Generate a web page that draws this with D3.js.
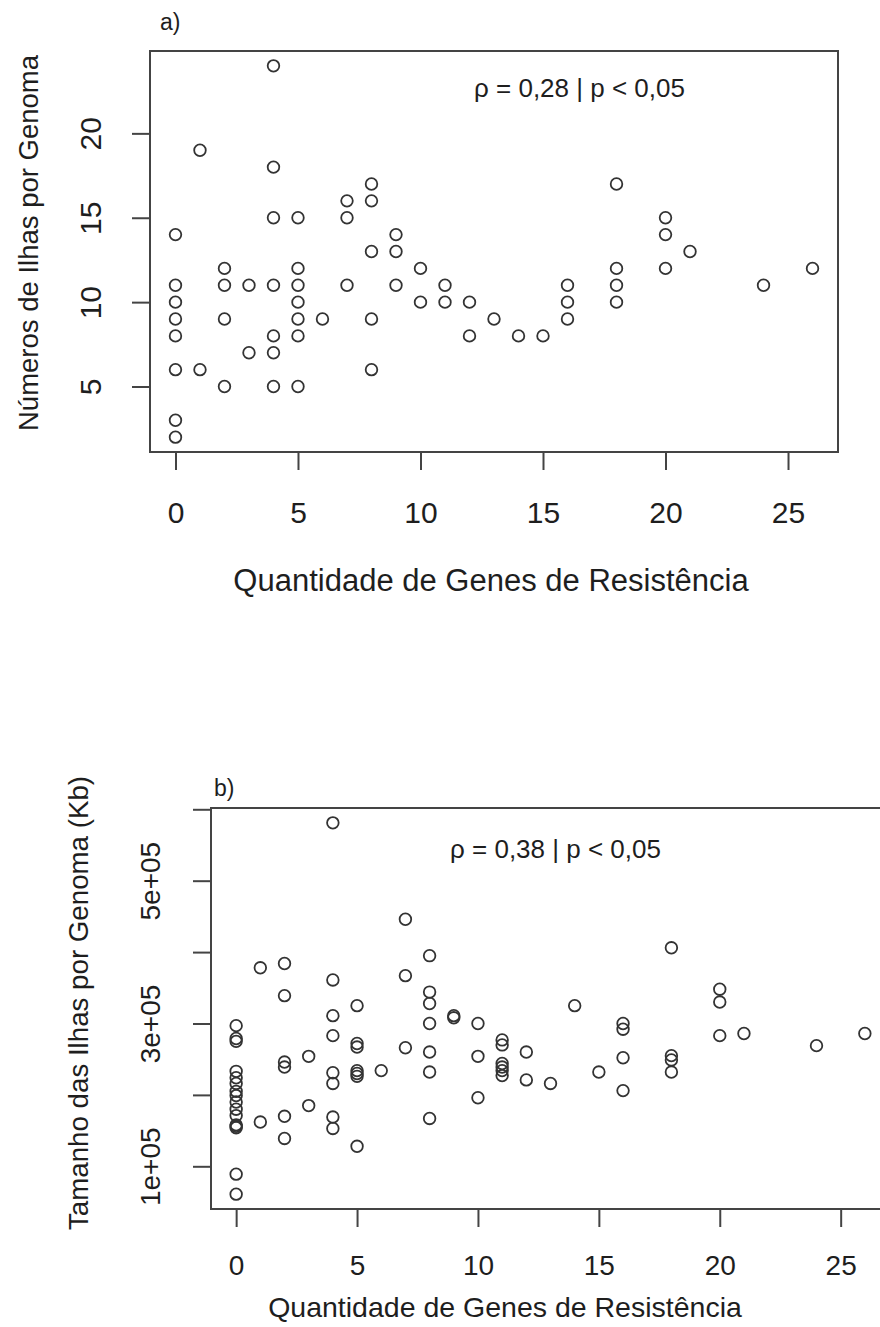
<!DOCTYPE html>
<html>
<head>
<meta charset="utf-8">
<script src="https://cdn.jsdelivr.net/npm/d3@7"></script>
<style>
  body { margin: 0; background: #fff; }
  svg { display: block; font-family: "Liberation Sans", Arial, sans-serif; }
</style>
</head>
<body>
<div id="chart"></div>
<script>
// a) quantidade de genes de resistencia vs numero de ilhas por genoma
const genesA = [
  0, 0, 0, 0, 0, 0, 0, 0,
  1, 1,
  2, 2, 2, 2,
  3, 3,
  4, 4, 4, 4, 4, 4, 4,
  5, 5, 5, 5, 5, 5, 5,
  6,
  7, 7, 7,
  8, 8, 8, 8, 8,
  9, 9, 9,
  10, 10,
  11, 11,
  12, 12,
  13, 14, 15,
  16, 16, 16,
  18, 18, 18, 18,
  20, 20, 20,
  21, 24, 26
];
const ilhasA = [
  14, 11, 10, 9, 8, 6, 3, 2,
  19, 6,
  12, 11, 9, 5,
  11, 7,
  24, 18, 15, 11, 8, 7, 5,
  15, 12, 11, 10, 9, 8, 5,
  9,
  16, 15, 11,
  17, 16, 13, 9, 6,
  14, 13, 11,
  12, 10,
  11, 10,
  10, 8,
  9, 8, 8,
  11, 10, 9,
  17, 12, 11, 10,
  15, 14, 12,
  13, 11, 12
];

// b) quantidade de genes de resistencia vs tamanho das ilhas (Kb)
const genesB = [
  0, 0, 0, 0, 0, 0, 0, 0, 0, 0, 0, 0, 0, 0, 0, 0,
  1, 1,
  2, 2, 2, 2, 2, 2,
  3, 3,
  4, 4, 4, 4, 4, 4, 4, 4,
  5, 5, 5, 5, 5, 5, 5,
  6,
  7, 7, 7,
  8, 8, 8, 8, 8, 8, 8,
  9, 9,
  10, 10, 10,
  11, 11, 11, 11, 11, 11,
  12, 12,
  13, 14, 15,
  16, 16, 16, 16,
  18, 18, 18, 18,
  20, 20, 20,
  21, 24, 26
];
const tamanhoB = [
  297000, 279000, 275000, 233000, 224000, 216000, 205000, 199000, 190000, 180000, 171000, 158000, 156000, 154000, 89000, 61000,
  378000, 162000,
  384000, 339000, 246000, 239000, 170000, 139000,
  254000, 185000,
  581000, 361000, 311000, 283000, 231000, 216000, 169000, 153000,
  325000, 272000, 267000, 234000, 230000, 226000, 128000,
  234000,
  446000, 367000, 266000,
  395000, 344000, 328000, 300000, 260000, 232000, 167000,
  311000, 308000,
  300000, 254000, 196000,
  277000, 270000, 244000, 239000, 234000, 227000,
  260000, 221000,
  216000, 325000, 232000,
  300000, 292000, 252000, 206000,
  406000, 255000, 249000, 232000,
  348000, 330000, 283000,
  286000, 269000, 286000
];

const xTicks = [0, 5, 10, 15, 20, 25];
const yTicksA = [5, 10, 15, 20];
const yTicksB = [100000, 200000, 300000, 400000, 500000, 600000];
const yLabelsB = [100000, 300000, 500000];

const svg = d3.select("#chart").append("svg")
    .attr("width", 880)
    .attr("height", 1327);

// R style axis limits: data range plus 4% on each side
function rRange(values) {
  const [lo, hi] = d3.extent(values);
  const pad = (hi - lo) * 0.04;
  return [lo - pad, hi + pad];
}

function sciLabel(d) {
  const e = Math.floor(Math.log10(d));
  return (d / 10 ** e) + "e+" + String(e).padStart(2, "0");
}

function drawPanel(xs, ys, o) {
  const x = d3.scaleLinear(rRange(xs), [o.left, o.right]);
  const y = d3.scaleLinear(rRange(ys), [o.bottom, o.top]);
  const g = svg.append("g");

  g.append("g")
    .selectAll("circle")
    .data(xs.map((d, i) => [d, ys[i]]))
    .join("circle")
      .attr("cx", d => x(d[0]))
      .attr("cy", d => y(d[1]))
      .attr("r", 5.8)
      .attr("fill", "none")
      .attr("stroke", "#333")
      .attr("stroke-width", 1.8);

  g.append("rect")
      .attr("x", o.left)
      .attr("y", o.top)
      .attr("width", o.right - o.left)
      .attr("height", o.bottom - o.top)
      .attr("fill", "none")
      .attr("stroke", "#444")
      .attr("stroke-width", 2);

  // x axis
  const xa = g.append("g")
      .attr("transform", `translate(0,${o.bottom})`)
      .call(d3.axisBottom(x).tickValues(xTicks).tickFormat(d3.format("d")).tickSize(18).tickSizeOuter(0));
  xa.select(".domain").remove();
  xa.attr("font-size", o.tickFont).attr("font-family", null).attr("color", "#1e1e1e");
  xa.selectAll("line").attr("stroke", "#444").attr("stroke-width", 2);
  xa.selectAll("text").attr("y", o.xLabOff).attr("dy", "0.35em");

  // y axis, labels turned like R's default las = 0
  const ya = g.append("g")
      .attr("transform", `translate(${o.left},0)`)
      .call(d3.axisLeft(y).tickValues(o.yTicks).tickFormat(o.yFormat).tickSize(18).tickSizeOuter(0));
  ya.select(".domain").remove();
  ya.attr("font-size", o.tickFont).attr("font-family", null).attr("color", "#1e1e1e");
  ya.selectAll("line").attr("stroke", "#444").attr("stroke-width", 2);
  ya.selectAll("text")
      .attr("x", 0)
      .attr("y", 0)
      .attr("dy", "0.35em")
      .attr("text-anchor", "middle")
      .attr("transform", `translate(${-o.yLabOff},0) rotate(-90)`);

  // titles
  g.append("text")
      .attr("x", o.xTitle[0])
      .attr("y", o.xTitle[1])
      .attr("dy", "0.35em")
      .attr("text-anchor", "middle")
      .attr("font-size", o.xTitleFont)
      .attr("fill", "#1e1e1e")
      .text("Quantidade de Genes de Resistência");

  g.append("text")
      .attr("transform", `translate(${o.yTitle[0]},${o.yTitle[1]}) rotate(-90)`)
      .attr("dy", "0.35em")
      .attr("text-anchor", "middle")
      .attr("font-size", o.yTitleFont)
      .attr("fill", "#1e1e1e")
      .text(o.yTitleText);

  g.append("text")
      .attr("x", o.tag[0])
      .attr("y", o.tag[1])
      .attr("font-size", 23)
      .attr("fill", "#1e1e1e")
      .text(o.tagText);

  g.append("text")
      .attr("x", o.note[0])
      .attr("y", o.note[1])
      .attr("font-size", 26)
      .attr("fill", "#1e1e1e")
      .text(o.noteText);
}

drawPanel(genesA, ilhasA, {
  left: 150, right: 838, top: 51, bottom: 452,
  yTicks: yTicksA,
  yFormat: d3.format("d"),
  tickFont: 30,
  xLabOff: 60,
  yLabOff: 60,
  xTitle: [491, 580], xTitleFont: 31,
  yTitle: [28, 243], yTitleFont: 27.5,
  yTitleText: "Números de Ilhas por Genoma",
  tag: [160, 30], tagText: "a)",
  note: [474, 97], noteText: "ρ = 0,28 | p < 0,05"
});

drawPanel(genesB, tamanhoB, {
  left: 211, right: 890, top: 808, bottom: 1209,
  yTicks: yTicksB,
  yFormat: d => yLabelsB.includes(d) ? sciLabel(d) : "",
  tickFont: 28,
  xLabOff: 56,
  yLabOff: 61,
  xTitle: [505, 1307], xTitleFont: 28.5,
  yTitle: [78, 1003], yTitleFont: 27.7,
  yTitleText: "Tamanho das Ilhas por Genoma (Kb)",
  tag: [214, 796], tagText: "b)",
  note: [450, 858], noteText: "ρ = 0,38 | p < 0,05"
});
</script>
</body>
</html>
